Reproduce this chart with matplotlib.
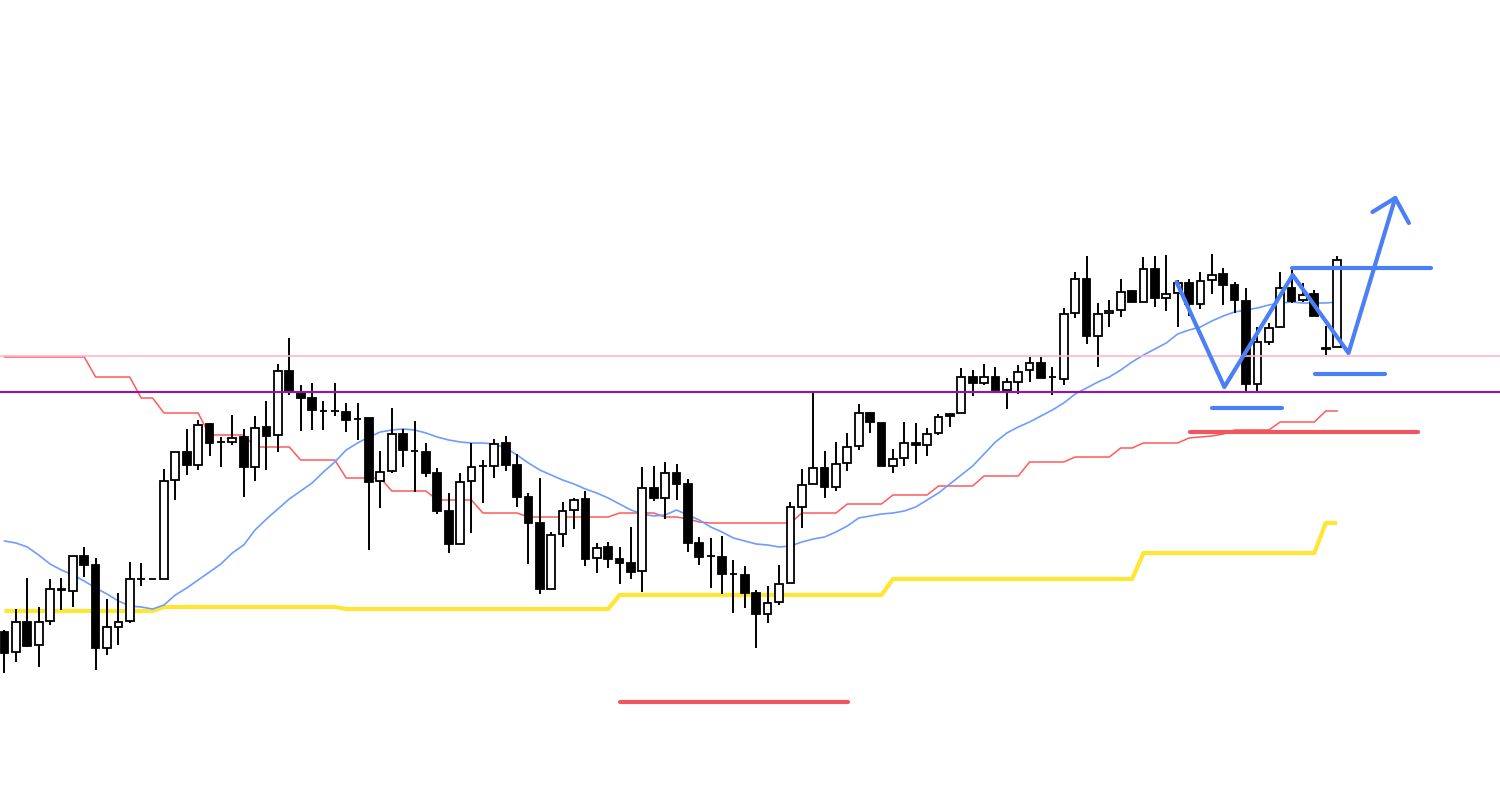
import matplotlib.pyplot as plt
import numpy as np

# Candle data (0 = top edge, 810 = bottom edge)
opens = [632, 652, 622, 645, 621, 589, 591, 556, 565, 648, 627, 621, 579, 579, 579, 480, 452, 465, 424, 442,
         442, 437, 467, 427, 435, 371, 392, 398, 411, 411, 412, 419, 418, 481, 471, 434, 451, 452, 473, 511,
         544, 481, 466, 466, 443, 465, 497, 523, 589, 534, 510, 499, 558, 547, 559, 563, 571, 488, 498, 473,
         484, 543, 556, 557, 574, 575, 593, 614, 602, 583, 507, 484, 468, 487, 463, 446, 413, 423, 466, 458,
         443, 445, 433, 414, 413, 377, 383, 377, 390, 382, 370, 363, 377, 379, 313, 279, 336, 313, 310, 291,
         302, 269, 298, 293, 283, 304, 280, 274, 285, 301, 384, 342, 327, 288, 300, 294, 348, 347]
highs = [630, 609, 578, 607, 579, 578, 556, 547, 558, 599, 593, 562, 563, 579, 469, 452, 429, 420, 423, 437,
         415, 429, 416, 401, 364, 338, 385, 383, 401, 383, 403, 403, 418, 451, 408, 429, 421, 443, 468, 493,
         473, 443, 460, 439, 436, 454, 493, 478, 532, 502, 498, 491, 543, 542, 547, 527, 467, 466, 462, 464,
         479, 537, 538, 536, 560, 566, 590, 586, 565, 502, 469, 392, 451, 442, 433, 404, 412, 423, 449, 422,
         423, 428, 414, 413, 368, 370, 364, 367, 378, 365, 357, 357, 367, 308, 272, 256, 303, 300, 279, 290,
         257, 256, 255, 280, 279, 272, 254, 268, 282, 288, 327, 323, 272, 270, 283, 290, 326, 256]
lows = [673, 662, 647, 667, 625, 610, 607, 577, 670, 655, 645, 623, 586, 579, 579, 500, 475, 470, 456, 467,
        445, 497, 481, 470, 452, 395, 431, 430, 430, 416, 432, 440, 550, 508, 473, 467, 492, 477, 514, 553,
        544, 533, 503, 478, 471, 507, 564, 594, 589, 547, 529, 566, 573, 568, 584, 579, 592, 501, 519, 500,
        552, 565, 588, 594, 613, 608, 648, 623, 605, 583, 528, 484, 498, 491, 471, 450, 433, 466, 473, 466,
        464, 456, 435, 427, 413, 396, 385, 390, 409, 394, 382, 378, 395, 385, 318, 344, 367, 327, 317, 302,
        302, 307, 311, 327, 316, 309, 294, 305, 313, 392, 392, 345, 327, 303, 302, 316, 355, 347]
closes = [653, 622, 646, 622, 589, 590, 556, 565, 648, 627, 622, 579, 579, 579, 481, 452, 465, 425, 443, 442,
          438, 467, 428, 436, 371, 392, 398, 410, 411, 411, 420, 419, 482, 472, 434, 450, 451, 473, 511, 544,
          482, 467, 466, 444, 465, 497, 523, 589, 535, 511, 500, 559, 548, 559, 563, 572, 488, 498, 473, 484,
          543, 557, 556, 574, 574, 593, 614, 603, 584, 507, 485, 468, 487, 464, 447, 413, 422, 466, 459, 443,
          445, 434, 417, 416, 377, 383, 377, 390, 382, 372, 363, 378, 377, 314, 279, 336, 314, 311, 292, 302,
          269, 298, 294, 283, 304, 281, 275, 285, 300, 384, 342, 328, 288, 301, 295, 316, 349, 260]

# Indicator lines, one value per candle (same screen levels)
base_line = [357] * 8 + [377] * 4 + [398] * 2 + [413] * 4 + [435] * 4 + [447] * 4 + [460] * 4 + [478] * 4 + \
            [491] * 4 + [500] * 4 + [513] * 4 + [517] * 8 + [513] * 4 + [517, 517, 519, 522] + [523] * 8 + \
            [513] * 4 + [504] * 4 + [495] * 4 + [486] * 4 + [476] * 4 + [462] * 4 + [457] * 4 + [448] * 2 + \
            [443] * 4 + [438, 437, 436, 434] + [430] * 4 + [422] * 4 + [411] * 2
span_line = [611] * 14 + [607] * 16 + [609] * 24 + [595] * 24 + [579] * 22 + [553] * 16 + [523] * 2
ma_line = [541, 543, 547, 555, 564, 570, 575, 581, 588, 594, 601, 606, 607, 609, 605, 595, 588, 580, 572, 564,
           553, 545, 530, 519, 509, 499, 491, 483, 472, 462, 450, 443, 437, 432, 430, 429, 430, 433, 437, 440,
           442, 443, 443, 444, 448, 455, 463, 470, 475, 480, 484, 489, 493, 498, 504, 510, 514, 516, 515, 510,
           515, 520, 527, 532, 538, 541, 544, 545, 547, 546, 542, 539, 537, 532, 526, 518, 516, 514, 513, 511,
           507, 500, 493, 484, 475, 466, 454, 442, 433, 427, 422, 416, 410, 403, 394, 388, 382, 377, 370, 362,
           355, 349, 343, 334, 330, 327, 321, 316, 312, 310, 308, 305, 303, 302, 303, 303, 303, 302]

# Horizontal levels and hand drawn marks (candle index, screen level)
pink_level = 356
purple_level = 392
zigzag_x = [102.9, 107.1, 113.1, 118.0, 122.1]
zigzag_y = [282, 387, 275, 353, 198]
arrow_x = [120.1, 122.1, 123.3]
arrow_y = [212, 198, 223]
blue_segments = [((113.0, 125.2), 268), ((106.0, 112.2), 408), ((115.1, 121.2), 374)]
red_segments = [((104.1, 124.1), 432), ((54.0, 74.1), 702)]


def lvl(a):
    # screen level -> height from the bottom edge
    return 810 - np.asarray(a, dtype=float)


o, h, l, c = lvl(opens), lvl(highs), lvl(lows), lvl(closes)
x = np.arange(len(o))
up = c >= o

fig = plt.figure(figsize=(15, 8.1), dpi=100)
ax = fig.add_axes([0, 0, 1, 1])
ax.set_xlim(-0.395, 131.3)
ax.set_ylim(0, 810)
ax.axis('off')

ax.plot(x, lvl(span_line), color='#ffe633', lw=3.0, zorder=1, solid_capstyle='butt')
ax.plot(x, lvl(base_line), color='#ff5a5a', lw=1.1, zorder=1)
ax.plot(x, lvl(ma_line), color='#6e9cff', lw=1.2, zorder=1)

# candles
ax.vlines(x, l, h, color='black', lw=1.4, zorder=2)
body_h = np.abs(c - o)
ax.bar(x, body_h, bottom=np.minimum(o, c), width=0.68,
       color=np.where(up, 'white', 'black'), edgecolor='black', linewidth=1.3, zorder=3)

ax.axhline(lvl(pink_level), color='#ffb6c8', lw=1.2, zorder=4)
ax.axhline(lvl(purple_level), color='#9c10b0', lw=1.5, zorder=4)

for (x0, x1), y in red_segments:
    ax.plot([x0, x1], lvl([y, y]), color='#ef5660', lw=3.0, solid_capstyle='round', zorder=5)
for (x0, x1), y in blue_segments:
    ax.plot([x0, x1], lvl([y, y]), color='#4a7ff5', lw=3.0, solid_capstyle='round', zorder=5)
ax.plot(zigzag_x, lvl(zigzag_y), color='#4a7ff5', lw=3.0, solid_capstyle='round', zorder=5)
ax.plot(arrow_x, lvl(arrow_y), color='#4a7ff5', lw=3.0, solid_capstyle='round', zorder=5)

fig.savefig('out.png', dpi=100, facecolor='white')
